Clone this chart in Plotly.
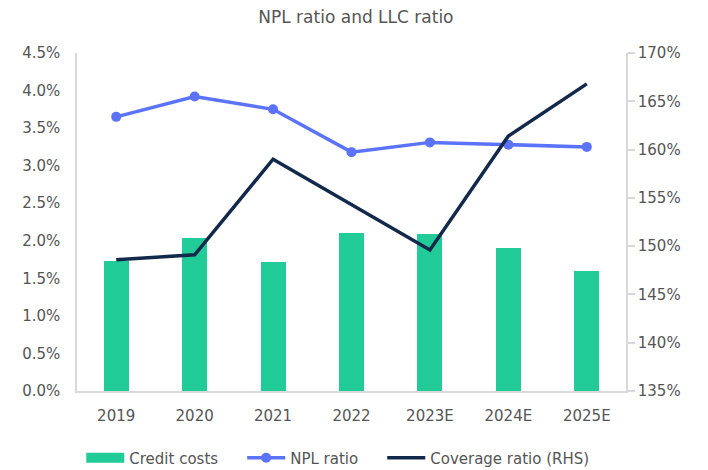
import plotly.graph_objects as go

years = ["2019", "2020", "2021", "2022", "2023E", "2024E", "2025E"]
credit_costs = [1.73, 2.04, 1.72, 2.10, 2.09, 1.90, 1.60]
npl_ratio = [3.65, 3.92, 3.75, 3.18, 3.31, 3.28, 3.25]
coverage_ratio = [148.6, 149.1, 159.0, 154.3, 149.6, 161.4, 166.8]
left_ticks = [0.0, 0.5, 1.0, 1.5, 2.0, 2.5, 3.0, 3.5, 4.0, 4.5]
right_ticks = [135, 140, 145, 150, 155, 160, 165, 170]

font_family = "DejaVu Sans, sans-serif"
text_color = "#555555"
axis_color = "#d9d9d9"
bar_color = "#22CC99"
pad = "\u00a0" * 4  # extra spacing between legend entries

fig = go.Figure()
fig.add_trace(go.Bar(
    x=years, y=credit_costs, name="Credit costs", showlegend=False,
    marker=dict(color=bar_color, line=dict(width=0)), width=0.32,
))
# legend proxy for the bar series (wide rectangular swatch)
fig.add_trace(go.Scatter(
    x=[None], y=[None], name="Credit costs" + pad, mode="lines",
    line=dict(color=bar_color, width=10),
))
fig.add_trace(go.Scatter(
    x=years, y=npl_ratio, name="NPL ratio" + pad, mode="lines+markers",
    line=dict(color="#5B73FA", width=3.5), marker=dict(size=10, color="#5B73FA"),
))
fig.add_trace(go.Scatter(
    x=years, y=coverage_ratio, name="Coverage ratio (RHS)", mode="lines",
    line=dict(color="#13294B", width=3.5), yaxis="y2",
))

# page body has an 8px margin: figure is 700x462 placed at (8, 8)
fig.update_layout(
    width=700, height=462,
    margin=dict(l=69, r=82, t=45, b=79, autoexpand=False),
    paper_bgcolor="white", plot_bgcolor="white",
    font=dict(family=font_family, color=text_color, size=15),
    title=dict(text="NPL ratio and LLC ratio", x=0.497, xanchor="center",
               y=0.98, yanchor="middle", font=dict(size=17, color=text_color)),
    showlegend=True,
    legend=dict(orientation="h", x=0.475, xanchor="center", y=-0.198, yanchor="middle",
                font=dict(size=15, color=text_color), itemwidth=38, tracegroupgap=0),
    bargap=0,
    xaxis=dict(
        showgrid=False, showline=True, linecolor=axis_color, linewidth=1.5,
        ticks="", tickfont=dict(size=15), ticklabelstandoff=10, automargin=False,
    ),
    yaxis=dict(
        range=[0, 4.5], tickvals=left_ticks,
        ticktext=[f"{v:.1f}%" for v in left_ticks],
        showgrid=False, showline=True, linecolor=axis_color, linewidth=1.5,
        ticks="", zeroline=False, tickfont=dict(size=15), ticklabelstandoff=12,
        automargin=False,
    ),
    yaxis2=dict(
        range=[135, 170], tickvals=right_ticks,
        ticktext=[f"{v}%" for v in right_ticks],
        overlaying="y", side="right",
        showgrid=False, showline=True, linecolor=axis_color, linewidth=1.5,
        ticks="outside", ticklen=7, tickcolor=axis_color, tickwidth=1.5,
        zeroline=False, tickfont=dict(size=15), automargin=False,
    ),
)

fig.write_html("out.html")
